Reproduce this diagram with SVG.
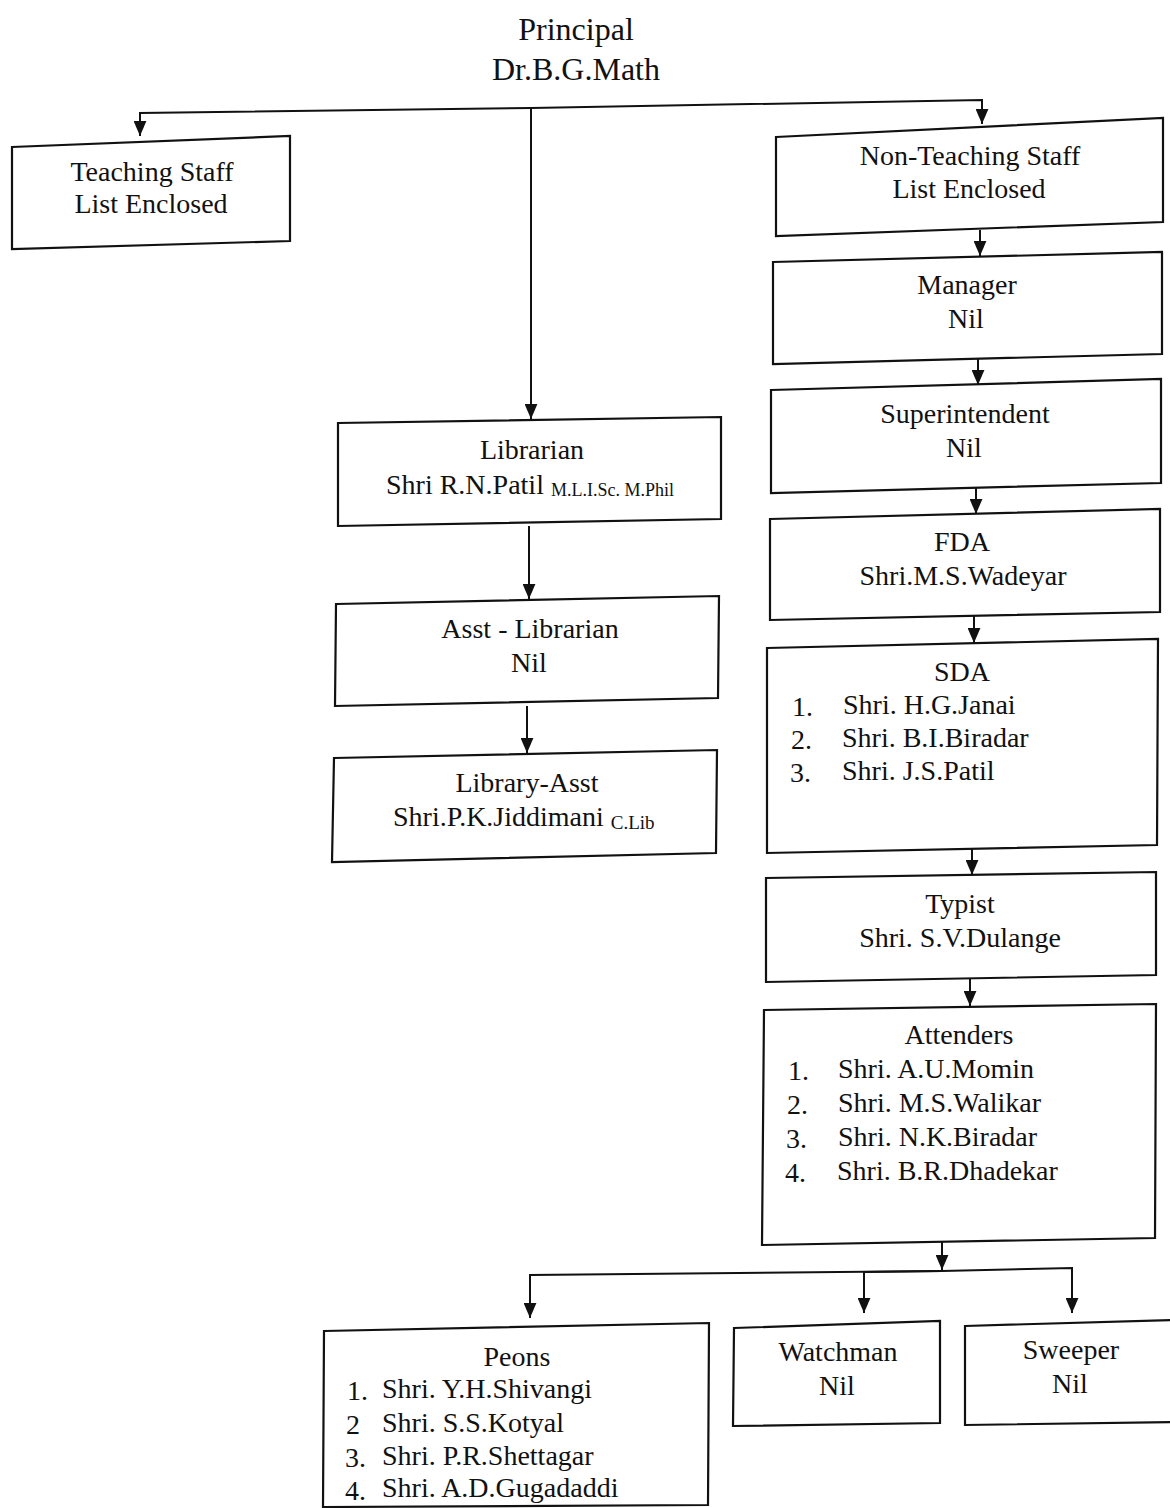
<svg xmlns="http://www.w3.org/2000/svg" width="1170" height="1508" viewBox="0 0 1170 1508">
<defs>
<marker id="arr" markerUnits="userSpaceOnUse" viewBox="0 0 14 12" markerWidth="15" markerHeight="13" refX="14" refY="6" orient="auto">
<path d="M0,0 L14,6 L0,12 z" fill="#111"/>
</marker>
<style>
.box{fill:#fff;stroke:#111;stroke-width:2.2}
.t{font-family:"Liberation Serif","Times New Roman",serif;font-size:28px;fill:#111}
.c{text-anchor:middle}
.s{font-size:18px}
.ln{fill:none;stroke:#111;stroke-width:2}
</style>
</defs>
<rect width="1170" height="1508" fill="#fff"/>

<g id="connectors">
<path class="ln" d="M531,108 L140,113 L140,136" marker-end="url(#arr)"/>
<path class="ln" d="M531,108 L982,100 L982,124" marker-end="url(#arr)"/>
<path class="ln" d="M531,108 L531,419" marker-end="url(#arr)"/>
<path class="ln" d="M529,526 L529,599" marker-end="url(#arr)"/>
<path class="ln" d="M527,706 L527,753" marker-end="url(#arr)"/>
<path class="ln" d="M980,230 L980,256" marker-end="url(#arr)"/>
<path class="ln" d="M978,359 L978,385" marker-end="url(#arr)"/>
<path class="ln" d="M976,488 L976,514" marker-end="url(#arr)"/>
<path class="ln" d="M974,616 L974,643" marker-end="url(#arr)"/>
<path class="ln" d="M972,849 L972,875" marker-end="url(#arr)"/>
<path class="ln" d="M970,979 L970,1006" marker-end="url(#arr)"/>
<path class="ln" d="M942,1241 L942,1270" marker-end="url(#arr)"/>
<path class="ln" d="M942,1271 L530,1275 L530,1318" marker-end="url(#arr)"/>
<path class="ln" d="M942,1271 L864,1272 L864,1313" marker-end="url(#arr)"/>
<path class="ln" d="M942,1271 L1072,1268 L1072,1313" marker-end="url(#arr)"/>
</g>

<g id="principal">
<text class="t c" x="576" y="40" style="font-size:32px">Principal</text>
<text class="t c" x="576" y="80" style="font-size:32px">Dr.B.G.Math</text>
</g>

<g id="teaching-staff">
<path class="box" d="M12,147 L290,136 L290,241 L12,249 z"/>
<text class="t c" x="152" y="181">Teaching Staff</text>
<text class="t c" x="151" y="213">List Enclosed</text>
</g>

<g id="non-teaching-staff">
<path class="box" d="M776,137 L1163,118 L1163,222 L776,236 z"/>
<text class="t c" x="970" y="165">Non-Teaching Staff</text>
<text class="t c" x="969" y="198">List Enclosed</text>
</g>

<g id="manager">
<path class="box" d="M773,262 L1162,252 L1162,354 L773,364 z"/>
<text class="t c" x="967" y="294">Manager</text>
<text class="t c" x="966" y="328">Nil</text>
</g>

<g id="superintendent">
<path class="box" d="M771,390 L1161,379 L1161,483 L771,493 z"/>
<text class="t c" x="965" y="423">Superintendent</text>
<text class="t c" x="964" y="457">Nil</text>
</g>

<g id="fda">
<path class="box" d="M770,519 L1160,509 L1160,612 L770,620 z"/>
<text class="t c" x="962" y="551">FDA</text>
<text class="t c" x="963" y="585">Shri.M.S.Wadeyar</text>
</g>

<g id="sda">
<path class="box" d="M767,648 L1158,639 L1157,845 L767,853 z"/>
<text class="t c" x="962" y="681">SDA</text>
<text class="t" x="792" y="716">1.</text><text class="t" x="843" y="714">Shri. H.G.Janai</text>
<text class="t" x="791" y="749">2.</text><text class="t" x="842" y="747">Shri. B.I.Biradar</text>
<text class="t" x="790" y="782">3.</text><text class="t" x="842" y="780">Shri. J.S.Patil</text>
</g>

<g id="typist">
<path class="box" d="M766,878 L1156,872 L1156,975 L766,982 z"/>
<text class="t c" x="960" y="913">Typist</text>
<text class="t c" x="960" y="947">Shri. S.V.Dulange</text>
</g>

<g id="attenders">
<path class="box" d="M764,1010 L1156,1004 L1155,1238 L762,1245 z"/>
<text class="t c" x="959" y="1044">Attenders</text>
<text class="t" x="788" y="1080">1.</text><text class="t" x="838" y="1078">Shri. A.U.Momin</text>
<text class="t" x="787" y="1114">2.</text><text class="t" x="838" y="1112">Shri. M.S.Walikar</text>
<text class="t" x="786" y="1148">3.</text><text class="t" x="838" y="1146">Shri. N.K.Biradar</text>
<text class="t" x="785" y="1182">4.</text><text class="t" x="837" y="1180">Shri. B.R.Dhadekar</text>
</g>

<g id="librarian">
<path class="box" d="M338,423 L721,417 L721,519 L338,526 z"/>
<text class="t c" x="532" y="459">Librarian</text>
<text class="t" x="386" y="494">Shri R.N.Patil <tspan class="s" dy="2">M.L.I.Sc. M.Phil</tspan></text>
</g>

<g id="asst-librarian">
<path class="box" d="M336,604 L719,596 L718,698 L335,706 z"/>
<text class="t c" x="530" y="638">Asst - Librarian</text>
<text class="t c" x="529" y="672">Nil</text>
</g>

<g id="library-asst">
<path class="box" d="M334,758 L717,750 L716,853 L332,862 z"/>
<text class="t c" x="527" y="792">Library-Asst</text>
<text class="t" x="393" y="826">Shri.P.K.Jiddimani <tspan class="s" dy="3" style="font-size:19px">C.Lib</tspan></text>
</g>

<g id="peons">
<path class="box" d="M324,1331 L709,1323 L708,1505 L323,1507 z"/>
<text class="t c" x="517" y="1366">Peons</text>
<text class="t" x="347" y="1400">1.</text><text class="t" x="382" y="1398">Shri. Y.H.Shivangi</text>
<text class="t" x="346" y="1434">2</text><text class="t" x="382" y="1432">Shri. S.S.Kotyal</text>
<text class="t" x="345" y="1467">3.</text><text class="t" x="382" y="1465">Shri. P.R.Shettagar</text>
<text class="t" x="345" y="1500">4.</text><text class="t" x="382" y="1497">Shri. A.D.Gugadaddi</text>
</g>

<g id="watchman">
<path class="box" d="M734,1328 L940,1321 L940,1423 L733,1426 z"/>
<text class="t c" x="838" y="1361">Watchman</text>
<text class="t c" x="837" y="1395">Nil</text>
</g>

<g id="sweeper">
<path class="box" d="M965,1326 L1172,1320 L1172,1422 L965,1425 z"/>
<text class="t c" x="1071" y="1359">Sweeper</text>
<text class="t c" x="1070" y="1393">Nil</text>
</g>
</svg>
